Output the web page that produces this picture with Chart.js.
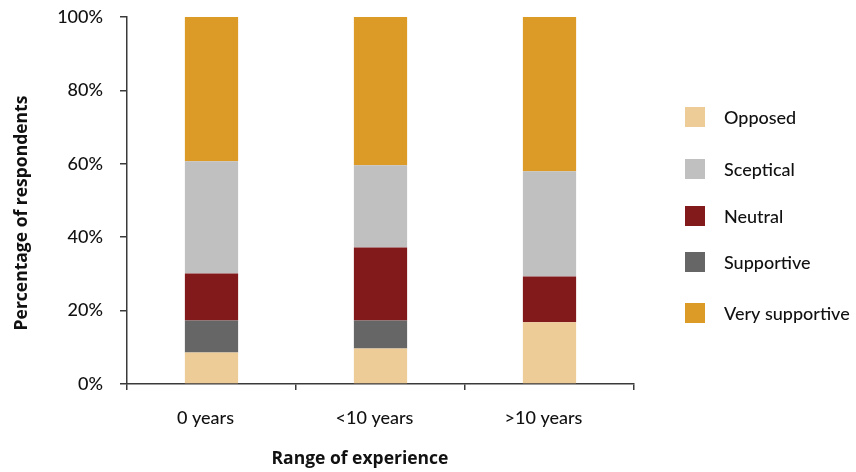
<!DOCTYPE html>
<html>
<head>
<meta charset="utf-8">
<script src="https://cdn.jsdelivr.net/npm/chart.js@4.4.1/dist/chart.umd.min.js"></script>
<style>
html,body{margin:0;padding:0;background:#fff;}
#wrap{width:856px;height:472px;position:relative;}
</style>
</head>
<body>
<div id="wrap"><canvas id="c" width="856" height="472"></canvas></div>
<script>
const categories = ["0 years", "<10 years", ">10 years"];
const opposed = [8.6, 9.7, 16.8];
const supportive = [8.7, 7.6, 0];
const neutral = [12.8, 19.9, 12.5];
const sceptical = [30.6, 22.4, 28.7];
const verySupportive = [39.3, 40.4, 42.0];
const yTicks = [0, 20, 40, 60, 80, 100];
const legendOrder = ["Opposed", "Sceptical", "Neutral", "Supportive", "Very supportive"];
const xTitle = "Range of experience";
const yTitle = "Percentage of respondents";

const FONT = "Lato, 'Noto Sans', sans-serif";
const BOLD = "'Open Sans', 'Noto Sans', sans-serif";
const AXIS = "#3a3a3a";
const TXT = "#111111";

const datasets = [
  {label: "Opposed", data: opposed, backgroundColor: "#EDCC97"},
  {label: "Supportive", data: supportive, backgroundColor: "#666666"},
  {label: "Neutral", data: neutral, backgroundColor: "#82191B"},
  {label: "Sceptical", data: sceptical, backgroundColor: "#C0C0C0"},
  {label: "Very supportive", data: verySupportive, backgroundColor: "#DC9A26"}
].map(d => Object.assign(d, {barPercentage: 0.315, categoryPercentage: 1, borderWidth: 0}));

const legendPlugin = {
  id: "sideLegend",
  afterDraw(chart) {
    const ctx = chart.ctx;
    const rowsY = [117, 169, 216, 262, 313];
    ctx.save();
    ctx.font = "500 18px " + FONT;
    ctx.textBaseline = "middle";
    ctx.textAlign = "left";
    legendOrder.forEach((name, i) => {
      const ds = chart.data.datasets.find(d => d.label === name);
      ctx.fillStyle = ds.backgroundColor;
      ctx.fillRect(685, rowsY[i] - 10, 20, 20);
      ctx.fillStyle = TXT;
      ctx.fillText(name, 724, rowsY[i] + 1);
    });
    ctx.restore();
  }
};

const axisTitlePlugin = {
  id: "axisTitles",
  afterDraw(chart) {
    const ctx = chart.ctx;
    ctx.save();
    ctx.font = "bold 17.5px " + BOLD;
    ctx.fillStyle = TXT;
    ctx.textAlign = "center";
    ctx.textBaseline = "middle";
    ctx.fillText(xTitle, 360, 459);
    ctx.translate(22, 213);
    ctx.rotate(-Math.PI / 2);
    ctx.fillText(yTitle, 0, 0);
    ctx.restore();
  }
};

new Chart(document.getElementById("c"), {
  type: "bar",
  data: {labels: categories, datasets},
  options: {
    responsive: false,
    animation: false,
    layout: {padding: {left: 0, right: 222, top: 17, bottom: 0}},
    plugins: {legend: {display: false}, tooltip: {enabled: false}},
    scales: {
      x: {
        stacked: true,
        grid: {display: true, drawOnChartArea: false, drawTicks: true, tickLength: 6, color: AXIS, lineWidth: 1.5, offset: true},
        border: {display: true, color: AXIS, width: 1.5},
        ticks: {color: TXT, font: {family: FONT, size: 18, weight: "500"}, padding: 17, labelOffset: -6, maxRotation: 0},
        title: {display: false},
        afterFit(s) { s.height = 88; s.paddingLeft = 0; s.paddingRight = 0; }
      },
      y: {
        stacked: true,
        min: 0, max: 100,
        afterBuildTicks(s) { s.ticks = yTicks.map(v => ({value: v})); },
        grid: {display: true, drawOnChartArea: false, drawTicks: true, tickLength: 7, color: AXIS, lineWidth: 1.5},
        border: {display: true, color: AXIS, width: 1.5},
        ticks: {color: TXT, font: {family: FONT, size: 18, weight: "500"}, padding: 17, callback: v => v + "%"},
        title: {display: false},
        afterFit(s) { s.width = 127; s.paddingTop = 0; s.paddingBottom = 0; }
      }
    }
  },
  plugins: [legendPlugin, axisTitlePlugin]
});
</script>
</body>
</html>
